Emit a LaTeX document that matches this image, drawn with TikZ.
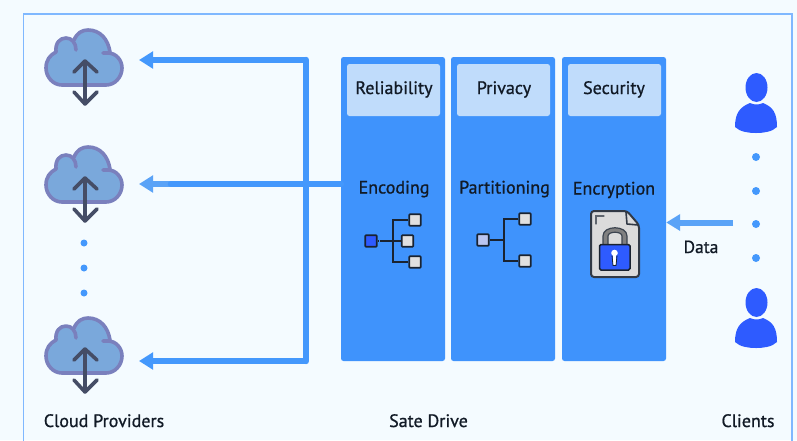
\documentclass[tikz,border=0pt]{standalone}
\usepackage{fontspec}
\setmainfont{PT Sans}[FakeBold=0.9]
\usetikzlibrary{arrows.meta}
\definecolor{pagebg}{HTML}{F4FBFF}
\definecolor{framec}{HTML}{7FB8FF}
\definecolor{colblue}{HTML}{3F93FC}
\definecolor{titleblue}{HTML}{C0DCFB}
\definecolor{arrowblue}{HTML}{4498FC}
\definecolor{lightarrow}{HTML}{5AA3F7}
\definecolor{cloudfill}{HTML}{7AA8DB}
\definecolor{cloudline}{HTML}{7A80BD}
\definecolor{arrowdark}{HTML}{454D66}
\definecolor{royal}{HTML}{2E5BFF}
\definecolor{inkdark}{HTML}{1A2330}
\definecolor{txtdark}{HTML}{111A26}
\tikzset{
  x=1pt,y=-1pt,
  txt/.style={font=\fontsize{18}{20}\selectfont,text=txtdark,inner sep=0pt,anchor=base},
  col/.style={fill=colblue,rounded corners=2.5pt},
  titlebox/.style={fill=titleblue,rounded corners=2.5pt},
  feed/.style={line width=6pt,arrowblue},
  feedhead/.style={-{Triangle[length=14pt,width=16.5pt]}},
  sq/.style={draw=inkdark,line width=1.6pt,fill=#1,minimum size=11.5pt,inner sep=0pt,rounded corners=0.8pt},
  tline/.style={draw=inkdark,line width=1.7pt},
  dot/.style={circle,fill=#1,inner sep=0pt,minimum size=8pt},
}
\newcommand{\cloudicon}[2]{%
  \begin{scope}[shift={(0,#1)}]
    \coordinate (#2) at (123,60);
    \path[fill=cloudfill] (62,85) .. controls (52,85) and (45,77) .. (45,68)
      .. controls (45,60) and (49,55) .. (55,52)
      .. controls (54,43) and (60,37) .. (66,37)
      .. controls (69,37) and (71,38) .. (73,40)
      .. controls (76,33) and (82,29) .. (88,29)
      .. controls (100,29) and (108,38) .. (110,53)
      .. controls (117,54) and (123,60) .. (123,68)
      .. controls (123,77) and (116,85) .. (106,85) -- cycle;
    \draw[cloudline,line width=3.6pt,line cap=round,line join=round]
      (103,53) -- (108,53) .. controls (116,53) and (122,60) .. (122,68)
      .. controls (122,77) and (115,85) .. (106,85) -- (62,85)
      .. controls (53,85) and (46,77) .. (46,68)
      .. controls (46,60) and (50,55) .. (56,52)
      .. controls (55,43) and (60,38) .. (66,38)
      .. controls (72,38) and (76,43) .. (76,50);
    \draw[cloudline,line width=3.6pt,line cap=round]
      (74,40) .. controls (77,33) and (82,30) .. (88,30)
      .. controls (100,30) and (108,39) .. (110,52);
    \draw[arrowdark,line width=3.6pt,line cap=round,line join=round]
      (85,61) -- (85,104) (74,72) -- (85,61) -- (97,72) (74,92) -- (85,104) -- (97,92);
  \end{scope}}
\newcommand{\personshape}[1]{%
  \begin{scope}[shift={(0,#1)}]
    \fill[royal] (756.5,302.5) ellipse (11 and 14.5);
    \fill[royal] (735,342) .. controls (735,328) and (740,322) .. (750,318)
      .. controls (754,320) and (759,320) .. (763,318)
      .. controls (773,322) and (777,328) .. (777,342)
      .. controls (772,347) and (763,348) .. (756,348)
      .. controls (749,348) and (740,347) .. (735,342) -- cycle;
  \end{scope}}
\begin{document}
\begin{tikzpicture}
\useasboundingbox (0,0) rectangle (797,440);
\fill[pagebg] (0,0) rectangle (797,440);
\draw[framec,line width=1.2pt] (23.5,445) -- (23.5,14) -- (792,14) -- (792,445);

% columns
\node[col,minimum width=104pt,minimum height=304pt,inner sep=0pt] (c1) at (393,209) {};
\node[col,minimum width=104pt,minimum height=304pt,inner sep=0pt] (c2) at (503,209) {};
\node[col,minimum width=104pt,minimum height=304pt,inner sep=0pt] (c3) at (614,209) {};
\node[titlebox,minimum width=93pt,minimum height=52pt,inner sep=0pt] (t1) at (393.5,90) {};
\node[titlebox,minimum width=93pt,minimum height=52pt,inner sep=0pt] (t2) at (503.5,90) {};
\node[titlebox,minimum width=93pt,minimum height=52pt,inner sep=0pt] (t3) at (614.5,90) {};
\node[txt] (lrel) at (394,94) {Reliability};
\node[txt] (lpri) at (504,94) {Privacy};
\node[txt] (lsec) at (614,94) {Security};
\node[txt] (lenc) at (394,193.5) {Encoding};
\node[txt] (lpar) at (504.5,193.5) {Partitioning};
\node[txt] (lcry) at (614,194.5) {Encryption};

% clouds
\cloudicon{0}{cA}
\cloudicon{117}{cB}
\cloudicon{288}{cC}
\node[dot=arrowblue,minimum size=7pt] (d1) at (84,243) {};
\node[dot=arrowblue,minimum size=7pt] (d2) at (84,268) {};
\node[dot=arrowblue,minimum size=7pt] (d3) at (84,293) {};

% bus and arrows
\coordinate (busT) at (306,60);
\coordinate (busB) at (306,361);
\coordinate (hA) at (139,60);
\coordinate (hB) at (139,184);
\coordinate (hC) at (139,361);
\coordinate (hB2) at (171,184);
\draw[feed,line width=6.4pt,line cap=round] (busT) -- (busB);
\draw[feed,feedhead] (busT) -- (hA);
\draw[feed,feedhead] (busB) -- (hC);
\draw[feed,lightarrow,feedhead] (hB2) -- (hB);
\draw[feed,line width=6.6pt,line cap=round] (c1.west |- hB) -- (hB2);

% encoding tree
\node[sq=royal] (r1) at (371,241) {};
\node[sq=white!88!black] (a1) at (415,220) {};
\node[sq=white!88!black] (a2) at (407.5,241) {};
\node[sq=white!88!black] (a3) at (415,262) {};
\coordinate (j1) at (393,241);
\draw[tline] (a1) -| (j1);
\draw[tline] (a3) -| (j1);
\draw[tline] (a2) -- (j1) -- (381,241);
\draw[tline,dash pattern=on 1.5pt off 1.5pt] (381,241) -- (r1);

% partition tree
\node[sq=white!70!royal!90!gray] (r2) at (483,240) {};
\node[sq=white!88!black] (b1) at (525,219) {};
\node[sq=white!88!black] (b2) at (525,261) {};
\coordinate (j2) at (504,240);
\draw[tline] (r2) -- (j2);
\draw[tline] (b1) -| (j2);
\draw[tline] (b2) -| (j2);

% encrypted file
\draw[draw=inkdark!90!white,fill=white!86!black,line width=2pt,line join=round,rounded corners=3pt]
  (591,211) -- (627,211) -- (639,225) -- (639,277) -- (591,277) -- cycle;
\draw[inkdark!90!white,line width=1.6pt,line join=round] (626,212) -- (627,224) -- (638,225);
\draw[draw=inkdark!70!white,line width=1.2pt,line cap=round] (596,224) -- (596,216) -- (604,216);
\draw[draw=inkdark!85!white,line width=1.2pt,fill=white!50!black]
  (603,245) -- (603,236) .. controls (603,225) and (627,225) .. (627,236) -- (627,245) -- (622,245) -- (622,236)
  .. controls (622,231) and (608,231) .. (608,236) -- (608,245) -- cycle;
\draw[fill=royal,draw=inkdark,line width=1.5pt,rounded corners=1.5pt] (599.5,244.5) rectangle (630,270);
\fill[white] (614.5,253) circle (3.3);
\fill[white] (612.8,254) rectangle (616.2,265);
\draw[inkdark,line width=0.8pt] (612,255.5) -- (613,265.5) -- (616,265.5) -- (617,255.5);

% data arrow
\coordinate (dsrc) at (733,222.5);
\draw[line width=6pt,lightarrow,-{Triangle[length=14pt,width=16pt]}] (dsrc) -- (c3.east |- dsrc);
\node[txt,font=\fontsize{17.5}{20}\selectfont] (ldata) at (701,253) {Data};

% clients
\personshape{-215}
\personshape{0}
\node[dot=arrowblue] (e1) at (756,157) {};
\node[dot=arrowblue] (e2) at (756,191) {};
\node[dot=arrowblue] (e3) at (756,224) {};
\node[dot=arrowblue] (e4) at (756,258) {};

\node[txt] (lcp) at (104,427) {Cloud Providers};
\node[txt] (lsd) at (428.5,427) {Sate Drive};
\node[txt] (lcl) at (748,427) {Clients};
\end{tikzpicture}
\end{document}
